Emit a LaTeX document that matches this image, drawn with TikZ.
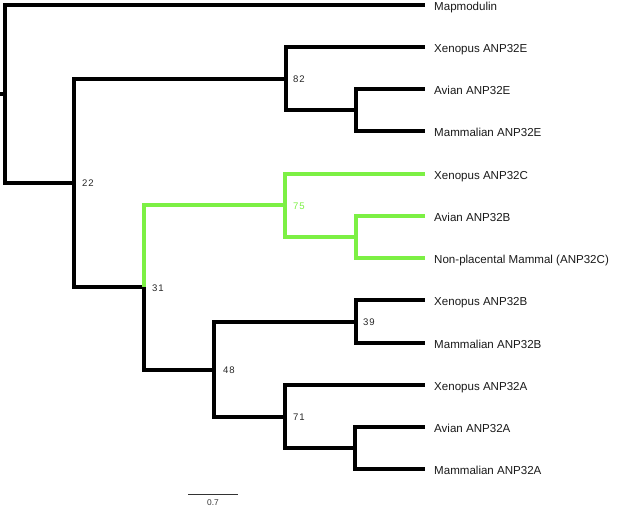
\documentclass[tikz,border=0pt]{standalone}
\usepackage{fontspec}
\setmainfont{Liberation Sans}
\begin{document}
\begin{tikzpicture}[x=1bp,y=-1bp,
  br/.style={line width=3.6bp,draw=black,line join=miter},
  gbr/.style={line width=3.6bp,draw=treegreen,line join=miter},
  leaf/.style={anchor=base west,inner sep=0pt,font=\fontsize{11.6}{13}\selectfont,text=black!90},
  sup/.style={anchor=west,inner sep=0pt,font=\addfontfeatures{LetterSpace=10}\fontsize{9.6}{11}\selectfont,text=black!85},
]
\definecolor{treegreen}{RGB}{124,240,68}
\useasboundingbox (0,0) rectangle (617,509);
% internal nodes
\coordinate (R) at (5,94);
\coordinate (S) at (0,94);
\coordinate (N22) at (74,183);
\coordinate (N82) at (286,79);
\coordinate (NE) at (356,110);
\coordinate (N31) at (144,287);
\coordinate (N75) at (285,205);
\coordinate (NB) at (356,237);
\coordinate (N48) at (214,370);
\coordinate (N39) at (356,322);
\coordinate (N71) at (285,417);
\coordinate (NA) at (355,448);
% leaf ends
\coordinate (L1) at (425,5);
\coordinate (L2) at (425,47);
\coordinate (L3) at (425,89);
\coordinate (L4) at (425,131);
\coordinate (L5) at (425,174);
\coordinate (L6) at (425,216);
\coordinate (L7) at (425,258);
\coordinate (L8) at (425,300);
\coordinate (L9) at (425,343);
\coordinate (L10) at (425,385);
\coordinate (L11) at (425,427);
\coordinate (L12) at (425,469);
% leaf labels
\node[leaf] (T1) at (434,10.5) {Mapmodulin};
\node[leaf] (T2) at (434,52.5) {Xenopus ANP32E};
\node[leaf] (T3) at (434,94.5) {Avian ANP32E};
\node[leaf] (T4) at (434,136.5) {Mammalian ANP32E};
\node[leaf] (T5) at (434,179.5) {Xenopus ANP32C};
\node[leaf] (T6) at (434,221.5) {Avian ANP32B};
\node[leaf] (T7) at (434,263.5) {Non-placental Mammal (ANP32C)};
\node[leaf] (T8) at (434,305.5) {Xenopus ANP32B};
\node[leaf] (T9) at (434,348.5) {Mammalian ANP32B};
\node[leaf] (T10) at (434,390.5) {Xenopus ANP32A};
\node[leaf] (T11) at (434,432.5) {Avian ANP32A};
\node[leaf] (T12) at (434,474.5) {Mammalian ANP32A};
% branches
\draw[br] (S) -- (R);
\draw[br] (R) |- (L1);
\draw[br] (R) |- (N22);
\draw[br] (N22) |- (N82);
\draw[br] (N22) |- (N31);
\draw[br] (N82) |- (L2);
\draw[br] (N82) |- (NE);
\draw[br] (NE) |- (L3);
\draw[br] (NE) |- (L4);
\draw[gbr] (N31) |- (N75);
\draw[gbr] (N75) |- (L5);
\draw[gbr] (N75) |- (NB);
\draw[gbr] (NB) |- (L6);
\draw[gbr] (NB) |- (L7);
\draw[br] (N31) |- (N48);
\draw[br] (N48) |- (N39);
\draw[br] (N48) |- (N71);
\draw[br] (N39) |- (L8);
\draw[br] (N39) |- (L9);
\draw[br] (N71) |- (L10);
\draw[br] (N71) |- (NA);
\draw[br] (NA) |- (L11);
\draw[br] (NA) |- (L12);
% support values
\node[sup] (s22) at (82,183.5) {22};
\node[sup] (s82) at (293,79.5) {82};
\node[sup] (s31) at (152,288) {31};
\node[sup,text=treegreen] (s75) at (293,206) {75};
\node[sup] (s48) at (223,370) {48};
\node[sup] (s39) at (363,322) {39};
\node[sup] (s71) at (293,417) {71};
% scale bar
\coordinate (SB1) at (188,494);
\coordinate (SB2) at (238,494);
\draw[line width=0.9bp,draw=black!80] (SB1) -- (SB2);
\node[anchor=center,inner sep=0pt,font=\fontsize{8.4}{9}\selectfont,text=black!80] (sbl) at (213,503) {0.7};
\end{tikzpicture}
\end{document}
